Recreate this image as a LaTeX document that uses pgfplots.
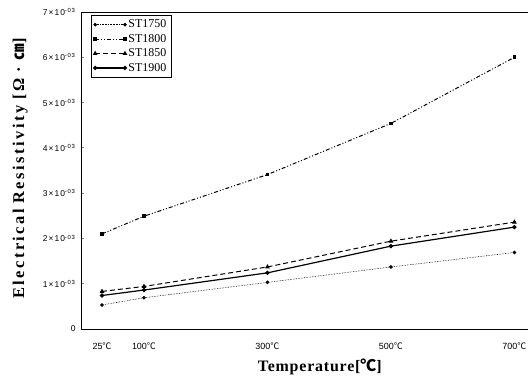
\documentclass[border=0pt]{standalone}
\usepackage{fontspec}
\setmainfont{Liberation Serif}
\setsansfont{Liberation Sans}
\newfontfamily\cjk{Noto Sans CJK KR}
\usepackage{pgfplots}
\pgfplotsset{compat=1.18}
\begin{document}
\begin{tikzpicture}
\begin{axis}[
  scale only axis,
  width=447bp, height=317bp,
  xmin=-2, xmax=722,
  ymin=0, ymax=0.007,
  axis x line*=box,
  axis y line*=left,
  axis line style={line width=1pt},
  xtick={32,100,300,500,700},
  xticklabels={25{\cjk ℃},100{\cjk ℃},300{\cjk ℃},500{\cjk ℃},700{\cjk ℃}},
  xtick style={draw=none},
  ytick={0,0.001,0.002,0.003,0.004,0.005,0.006,0.007},
  yticklabels={0,
    1×10\textsuperscript{-03},2×10\textsuperscript{-03},3×10\textsuperscript{-03},
    4×10\textsuperscript{-03},5×10\textsuperscript{-03},6×10\textsuperscript{-03},
    7×10\textsuperscript{-03}},
  scaled y ticks=false,
  ytick style={line width=0.8pt},
  tick align=inside,
  major tick length=3pt,
  tick label style={font=\sffamily\fontsize{9}{10}\selectfont},
  yticklabel style={font=\sffamily\fontsize{8.5}{9}\selectfont\addfontfeature{LetterSpace=12}, xshift=-2pt},
  xticklabel style={yshift=-10pt},
  xlabel={\textbf{Temperature[{\cjk\bfseries ℃}]}},
  ylabel={\textbf{Electrical\hspace{0.35em}Resistivity\hspace{0.35em}[Ω~·~{\cjk\bfseries ㎝}]}},
  every axis x label/.style={at={(axis description cs:0.535,0)},anchor=center,yshift=-38bp,
    font=\fontsize{16}{18}\selectfont\addfontfeature{LetterSpace=5}},
  every axis y label/.style={at={(axis description cs:-0.136,0.51)},rotate=90,anchor=center,
    font=\fontsize{16.5}{18}\selectfont\addfontfeature{LetterSpace=15}},
  legend style={at={(0.022,0.99)}, anchor=north west, draw=black, line width=0.6pt,
    font=\fontsize{12}{13}\selectfont, row sep=1pt, inner sep=2.5pt},
  legend cell align=left,
  legend image code/.code={\draw[#1] plot coordinates {(0cm,0cm) (1.05cm,0cm)};},
  clip=false,
]
\addplot[black, line width=0.6pt, densely dotted, mark=*, mark size=1.5pt, mark options={solid}]
  coordinates {(32,0.00053) (100,0.00069) (300,0.00103) (500,0.00137) (700,0.00169)};
\addlegendentry{ST1750}
\addplot[black, line width=1pt, dash pattern=on 4pt off 2pt on 1pt off 2pt on 1pt off 2pt, mark=square*, mark size=1.4pt, mark options={solid}]
  coordinates {(32,0.00210) (100,0.00249) (300,0.00341) (500,0.00454) (700,0.00600)};
\addlegendentry{ST1800}
\addplot[black, line width=1pt, dash pattern=on 5pt off 3pt, mark=triangle*, mark size=1.8pt, mark options={solid}]
  coordinates {(32,0.00083) (100,0.00094) (300,0.00137) (500,0.00194) (700,0.00236)};
\addlegendentry{ST1850}
\addplot[black, line width=1.2pt, solid, mark=*, mark size=1.5pt]
  coordinates {(32,0.00074) (100,0.00086) (300,0.00124) (500,0.00183) (700,0.00225)};
\addlegendentry{ST1900}
\end{axis}
\path (current axis.south west) ++(-81bp,-48bp) rectangle ++(530bp,377bp);
\end{tikzpicture}
\end{document}
